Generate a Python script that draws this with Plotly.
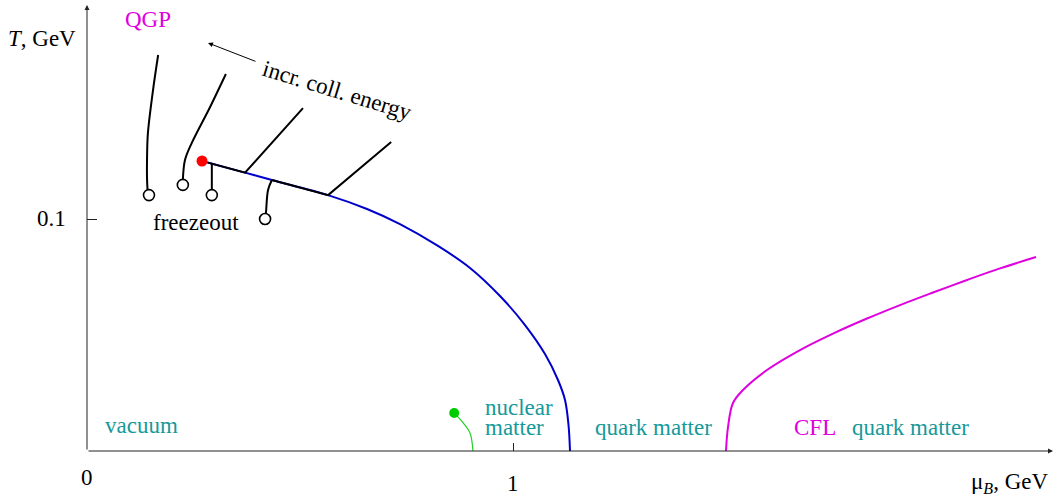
import plotly.graph_objects as go

# ---- data (mu_B in GeV, T in GeV) ----
blue_mu = [0.270, 0.371, 0.434, 0.5657, 0.6573, 0.7347, 0.8239, 0.8991, 0.9695, 1.0282, 1.0751, 1.1056, 1.1221, 1.1303, 1.1338]
blue_T = [0.125, 0.1200, 0.1168, 0.1103, 0.1043, 0.0978, 0.0884, 0.0789, 0.0668, 0.0543, 0.0418, 0.0306, 0.0220, 0.0112, 0.0]

cfl_mu = [1.5000, 1.5047, 1.5164, 1.5399, 1.5962, 1.6737, 1.7512, 1.8310, 1.9085, 1.9859, 2.0657, 2.1432, 2.2277]
cfl_T = [0.0, 0.0103, 0.0207, 0.0263, 0.0349, 0.0435, 0.0506, 0.0571, 0.0629, 0.0683, 0.0737, 0.0787, 0.0836]

nuc_mu = [0.862, 0.883, 0.899, 0.906]
nuc_T = [0.0164, 0.0121, 0.0078, 0.0]

fo1_mu = [0.167, 0.155, 0.143, 0.141, 0.141, 0.143]
fo1_T = [0.1707, 0.1556, 0.1371, 0.1267, 0.1168, 0.1103]
fo2_mu = [0.326, 0.289, 0.246, 0.230, 0.225, 0.225]
fo2_T = [0.1625, 0.1483, 0.1328, 0.1254, 0.1168, 0.1147]
fo3_mu = [0.293, 0.293]
fo3_T = [0.1237, 0.1103]
fo4_mu = [0.434, 0.425, 0.420, 0.418]
fo4_T = [0.1168, 0.1125, 0.1026, 0.1000]

segA_mu = [0.284, 0.371, 0.507]
segA_T = [0.1243, 0.1200, 0.1478]
segB_mu = [0.434, 0.500, 0.566, 0.714]
segB_T = [0.1168, 0.1136, 0.1103, 0.1332]

circ_mu = [0.1455, 0.225, 0.293, 0.418]
circ_T = [0.1103, 0.1147, 0.1103, 0.1000]

cep_mu = [0.270]
cep_T = [0.125]
nuc_pt_mu = [0.862]
nuc_pt_T = [0.0164]

arrow_mu = [0.399, 0.284]
arrow_T = [0.1677, 0.1759]

x_ticks = [1]
y_ticks = [0.1]

FONT = "Liberation Serif"
FS = 23
TEAL = "#16999a"
MAG = "#e000e0"
BLUE = "#0000cc"

fig = go.Figure()

def line(x, y, color, width, shape="linear"):
    fig.add_trace(go.Scatter(x=x, y=y, mode="lines", cliponaxis=False, hoverinfo="skip",
                             line=dict(color=color, width=width, shape=shape, smoothing=1.0)))

line(blue_mu, blue_T, BLUE, 2, "spline")
line(cfl_mu, cfl_T, MAG, 2, "spline")
line(nuc_mu, nuc_T, "#22cc22", 1.2, "spline")
line(fo1_mu, fo1_T, "black", 2, "spline")
line(fo2_mu, fo2_T, "black", 2, "spline")
line(fo3_mu, fo3_T, "black", 2)
line(fo4_mu, fo4_T, "black", 2, "spline")
line(segA_mu, segA_T, "black", 2)
line(segB_mu, segB_T, "black", 2)

fig.add_trace(go.Scatter(x=circ_mu, y=circ_T, mode="markers", cliponaxis=False, hoverinfo="skip",
                         marker=dict(symbol="circle", size=11, color="white",
                                     line=dict(color="black", width=1.6))))
fig.add_trace(go.Scatter(x=cep_mu, y=cep_T, mode="markers", cliponaxis=False, hoverinfo="skip",
                         marker=dict(symbol="circle", size=11, color="#ff0000", line=dict(width=0))))
fig.add_trace(go.Scatter(x=nuc_pt_mu, y=nuc_pt_T, mode="markers", cliponaxis=False, hoverinfo="skip",
                         marker=dict(symbol="circle", size=10, color="#00cc00", line=dict(width=0))))

XMAX = 966 / 426
YMAX = 446 / 2320

ann = []
# axes with arrowheads
ann.append(dict(x=XMAX, y=0, ax=0, ay=0, xref="x", yref="y", axref="x", ayref="y", text="",
                showarrow=True, arrowhead=2, arrowsize=1, arrowwidth=1, arrowcolor="#222", standoff=0))
ann.append(dict(x=0, y=YMAX, ax=0, ay=0, xref="x", yref="y", axref="x", ayref="y", text="",
                showarrow=True, arrowhead=2, arrowsize=1, arrowwidth=1, arrowcolor="#222", standoff=0))
# collision-energy arrow
ann.append(dict(x=arrow_mu[1], y=arrow_T[1], ax=arrow_mu[0], ay=arrow_T[0], xref="x", yref="y",
                axref="x", ayref="y", text="", showarrow=True, arrowhead=2, arrowsize=1,
                arrowwidth=1, arrowcolor="black", standoff=0))

def txt(x, y, s, color="black", xanchor="center", angle=0):
    # positions given in data units, placed via paper coordinates so that
    # labels outside the axis range are still drawn
    ann.append(dict(x=x / XMAX, y=y / YMAX, xref="paper", yref="paper", text=s, showarrow=False,
                    xanchor=xanchor, yanchor="middle", textangle=angle,
                    font=dict(family=FONT, size=FS, color=color)))

txt(0.1432, 0.186, "QGP", MAG)
txt(-0.1056, 0.178, "<i>T</i>, GeV")
txt(-0.0446, 0.1, "0.1", xanchor="right")
txt(0.257, 0.0987, "freezeout")
txt(0.587, 0.1556, "incr. coll. energy", angle=17)
txt(0.129, 0.0108, "vacuum", TEAL)
txt(0.9296, 0.0187, "nuclear", TEAL, xanchor="left")
txt(0.9296, 0.0100, "matter", TEAL, xanchor="left")
txt(1.330, 0.0103, "quark matter", TEAL)
txt(1.709, 0.0103, "CFL", MAG)
txt(1.933, 0.0103, "quark matter", TEAL)
txt(2.1667, -0.0138, "μ<sub><i>B</i></sub>, GeV")
txt(0, -0.0116, "0")
txt(1, -0.0142, "1")

fig.update_layout(
    width=1055, height=498,
    margin=dict(l=87, r=2, t=5, b=47, autoexpand=False),
    paper_bgcolor="white", plot_bgcolor="white",
    showlegend=False,
    annotations=ann,
    xaxis=dict(range=[0, XMAX], showgrid=False, zeroline=False, showline=False,
               tickvals=x_ticks, ticks="inside", ticklen=8, tickcolor="#222", tickwidth=1,
               showticklabels=False, fixedrange=True),
    yaxis=dict(range=[0, YMAX], showgrid=False, zeroline=False, showline=False,
               tickvals=y_ticks, ticks="inside", ticklen=10, tickcolor="#222", tickwidth=1,
               showticklabels=False, fixedrange=True),
)

fig.write_html("out.html", config={"displayModeBar": False},
               post_script="document.body.style.margin='0';")
